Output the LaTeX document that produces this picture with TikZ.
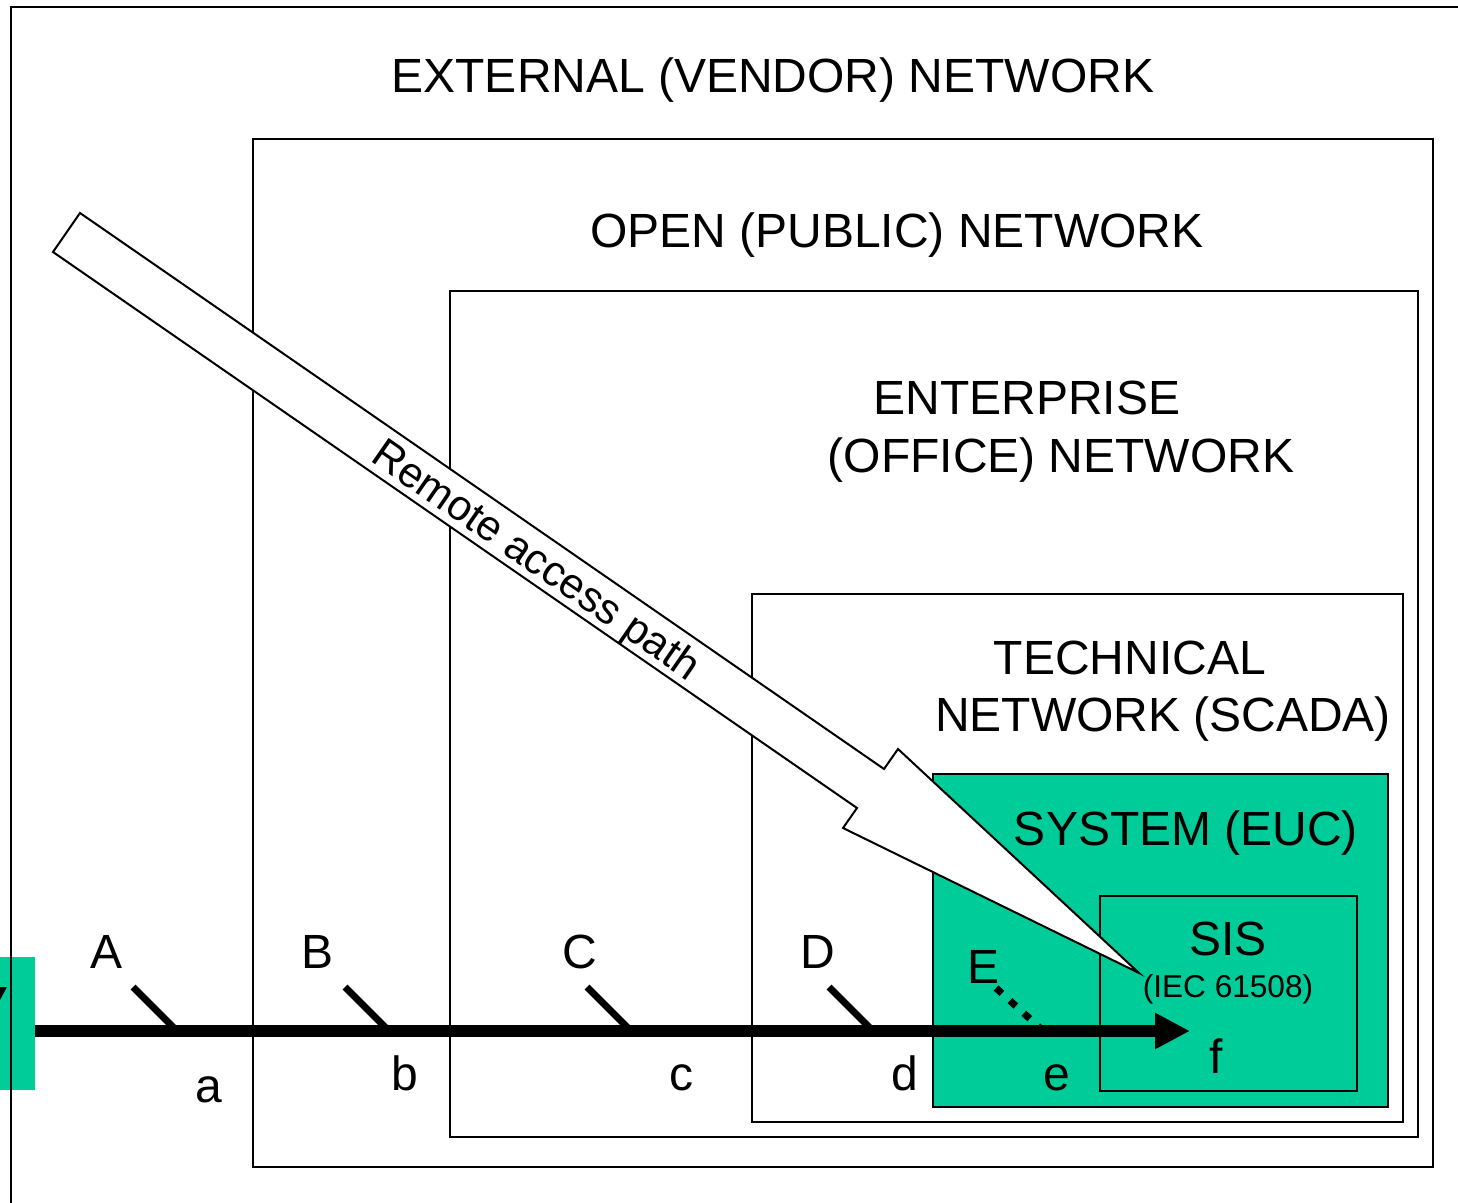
\documentclass[tikz,border=0pt]{standalone}
\usepackage{fontspec}
\setmainfont{Liberation Sans}
\usetikzlibrary{arrows.meta}
\definecolor{eucgreen}{RGB}{0,204,153}

\begin{document}
\begin{tikzpicture}[x=0.5pt,y=-0.5pt,
  zone/.style={draw,line width=1pt},
  title/.style={anchor=base,font=\fontsize{24}{28}\selectfont},
  lbl/.style={anchor=base,font=\fontsize{24}{28}\selectfont},
  stub/.style={line width=3.5pt},
  bus/.style={line width=6pt,-{Triangle[length=17.5pt,width=17pt]}}]
\clip (0,0) rectangle (1458,1203);

% feed coming in from the left
\node[fill=eucgreen,minimum width=17.5pt,minimum height=66.5pt,inner sep=0] (src) at (17.5,1023.5) {};
\fill (0,987) -- (7,987) -- (0,1000) -- cycle;

% nested zones
\draw[zone] (11,1220) -- (11,7) -- (1480,7);
\draw[zone] (253,139) rectangle (1433,1167);
\draw[zone] (450,291) rectangle (1418,1137);
\draw[zone] (752,594) rectangle (1403,1122);
\draw[zone,fill=eucgreen] (933,774) rectangle (1388,1107);
\draw[zone] (1100,896) rectangle (1357,1091);

\node[title] (ext) at (773,93) {EXTERNAL (VENDOR) NETWORK};
\node[title] (open) at (897,248) {OPEN (PUBLIC) NETWORK};
\node[title] (ent1) at (1027,415) {ENTERPRISE};
\node[title] (ent2) at (1061,473) {(OFFICE) NETWORK};
\node[title] (tech1) at (1130,675) {TECHNICAL};
\node[title] (tech2) at (1163,732) {NETWORK (SCADA)};
\node[title] (euc) at (1186,845) {SYSTEM (EUC)};
\node[title] (sis) at (1228,955) {SIS};
\node[anchor=base,font=\fontsize{15.8}{18}\selectfont] (iec) at (1228,997) {(IEC 61508)};

% the path through all zones
\coordinate (busL) at (35,1031);
\coordinate (busR) at (1190,1031);
\draw[bus] (busL) -- (busR);

\foreach \n/\x in {A/133,B/345,C/587,D/829} {
  \coordinate (\n0) at (\x,987);
  \coordinate (\n1) at (\x+43,1030);
  \draw[stub] (\n0) -- (\n1);
}
\coordinate (E0) at (996,988);
\coordinate (E1) at (1040,1028);
\draw[stub,dash pattern=on 4pt off 5.4pt] (E0) -- (E1);

\foreach \n/\x in {A/107,B/318,C/580,D/818} \node[lbl] (lab\n) at (\x,968) {\n};
\node[lbl] (labE) at (984,983) {E};

\node[lbl] (laba) at (209,1102) {a};
\node[lbl] (labb) at (405,1090) {b};
\node[lbl] (labc) at (681,1090) {c};
\node[lbl] (labd) at (905,1090) {d};
\node[lbl] (labe) at (1057,1090) {e};
\node[lbl] (labf) at (1216,1073) {f};

% remote access arrow
\draw[line width=1pt,fill=white,line join=miter]
  (80,213) -- (884,769) -- (898,749) -- (1139,973) -- (843,828) -- (857,808) -- (53,252) -- cycle;
\node[rotate=-34.7,font=\fontsize{21.3}{25}\selectfont] (remote) at (535,562) {Remote access path};
\end{tikzpicture}
\end{document}
